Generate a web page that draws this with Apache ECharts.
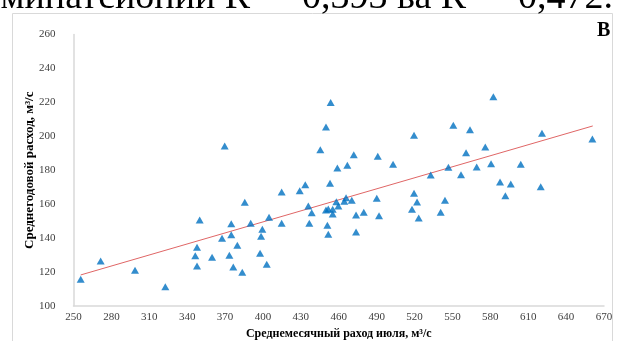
<!DOCTYPE html>
<html><head><meta charset="utf-8">
<script src="https://cdn.jsdelivr.net/npm/echarts@6/dist/echarts.min.js"></script>
<style>html,body{margin:0;padding:0;background:#fff;overflow:hidden}#c{width:617px;height:341px}</style>
</head><body><div id="c"></div><script>
const julyFlow = [255.7,271.5,298.7,322.7,349.9,347.8,346.4,347.8,359.7,367.6,374.9,374.9,379.7,373.4,376.5,383.6,385.6,390.3,369.7,399.5,398.5,397.7,403.0,404.8,414.8,414.8,429.1,433.5,435.9,438.6,436.7,453.1,449.9,451.7,455.2,455.2,458.1,459.7,464.4,465.8,470.3,451.0,451.7,473.7,473.7,479.8,490.1,491.9,458.9,466.8,503.0,519.6,522.0,518.0,523.3,532.8,546.8,556.8,569.2,580.6,604.1,544.1,540.7,587.7,596.2,591.9,619.9,537.0,582.4,550.7,563.9,519.6,620.9,660.8,560.8,576.0,453.6,449.9,445.4,471.9,490.9];
const annualFlow = [115.7,126.5,121.0,111.4,150.7,134.6,129.6,123.6,128.7,139.9,148.5,142.0,135.8,129.9,123.0,119.9,161.1,148.7,194.3,145.2,141.1,131.1,124.6,152.3,167.2,148.7,167.9,171.5,158.9,155.0,148.7,172.3,156.6,157.2,157.0,154.2,161.5,158.9,161.7,163.8,162.3,147.6,142.3,153.6,143.6,155.2,163.5,153.2,181.3,182.9,183.5,166.4,161.3,157.0,151.9,177.2,181.7,177.4,181.9,183.9,183.5,162.3,155.2,173.1,171.9,165.0,170.3,260.7,223.3,206.5,203.9,200.6,201.8,198.4,190.3,193.7,220.0,205.5,192.1,189.2,188.2];
const trendX = [255.7, 661.1];
const trendY = [118.3, 206.1];
const xMin = 250, xMax = 670, xStep = 30;
const yMin = 100, yMax = 260, yStep = 20;
const xTitle = 'Среднемесячный раход июля, м³/с';
const yTitle = 'Среднегодовой расход, м³/с';
const panelLabel = 'В';
const captionText = 'коэффициенти детерминатсионии R² = 0,393 ва R² = 0,472.';

const pts = julyFlow.map((x, i) => [x, annualFlow[i]]);
const trend = trendX.map((x, i) => [x, trendY[i]]);
const serif = 'Liberation Serif';
const chart = echarts.init(document.getElementById('c'), null, {renderer: 'canvas'});
chart.setOption({
  animation: false,
  backgroundColor: '#fff',
  grid: {left: 73.5, right: 13, top: 34.5, bottom: 35, containLabel: false, outerBoundsMode: 'none'},
  xAxis: {
    type: 'value', min: xMin, max: xMax, interval: xStep,
    name: xTitle, nameLocation: 'middle', nameGap: 22, nameMoveOverlap: false,
    nameTextStyle: {fontFamily: serif, fontWeight: 'bold', fontSize: 12, color: '#000'},
    axisLine: {show: true, lineStyle: {color: '#d9d9d9', width: 1.5}},
    axisTick: {show: false}, splitLine: {show: false},
    axisLabel: {fontFamily: serif, fontSize: 11, color: '#404040', margin: 6}
  },
  yAxis: {
    type: 'value', min: yMin, max: yMax, interval: yStep,
    name: yTitle, nameLocation: 'middle', nameGap: 37, nameMoveOverlap: false,
    nameTextStyle: {fontFamily: serif, fontWeight: 'bold', fontSize: 13, color: '#000'},
    axisLine: {show: true, lineStyle: {color: '#d9d9d9', width: 1.5}},
    axisTick: {show: false}, splitLine: {show: false},
    axisLabel: {fontFamily: serif, fontSize: 11, color: '#404040', margin: 18}
  },
  graphic: [
    {type: 'rect', shape: {x: 12.5, y: 13.5, width: 600, height: 340}, style: {fill: 'none', stroke: '#d9d9d9', lineWidth: 1}, z: -1},
    {type: 'text', right: 4, top: -21, style: {text: captionText, font: '38px "Liberation Serif"', fill: '#000'}},
    {type: 'text', left: 597, top: 21, style: {text: panelLabel, font: 'bold 20px "Liberation Serif"', fill: '#000'}}
  ],
  series: [
    {type: 'line', data: trend, showSymbol: false, symbol: 'none', lineStyle: {color: '#e06666', width: 1}, z: 1, silent: true},
    {type: 'scatter', data: pts, symbol: 'triangle', symbolSize: [8, 7], itemStyle: {color: '#0070c0'}, z: 2}
  ]
});
</script></body></html>
